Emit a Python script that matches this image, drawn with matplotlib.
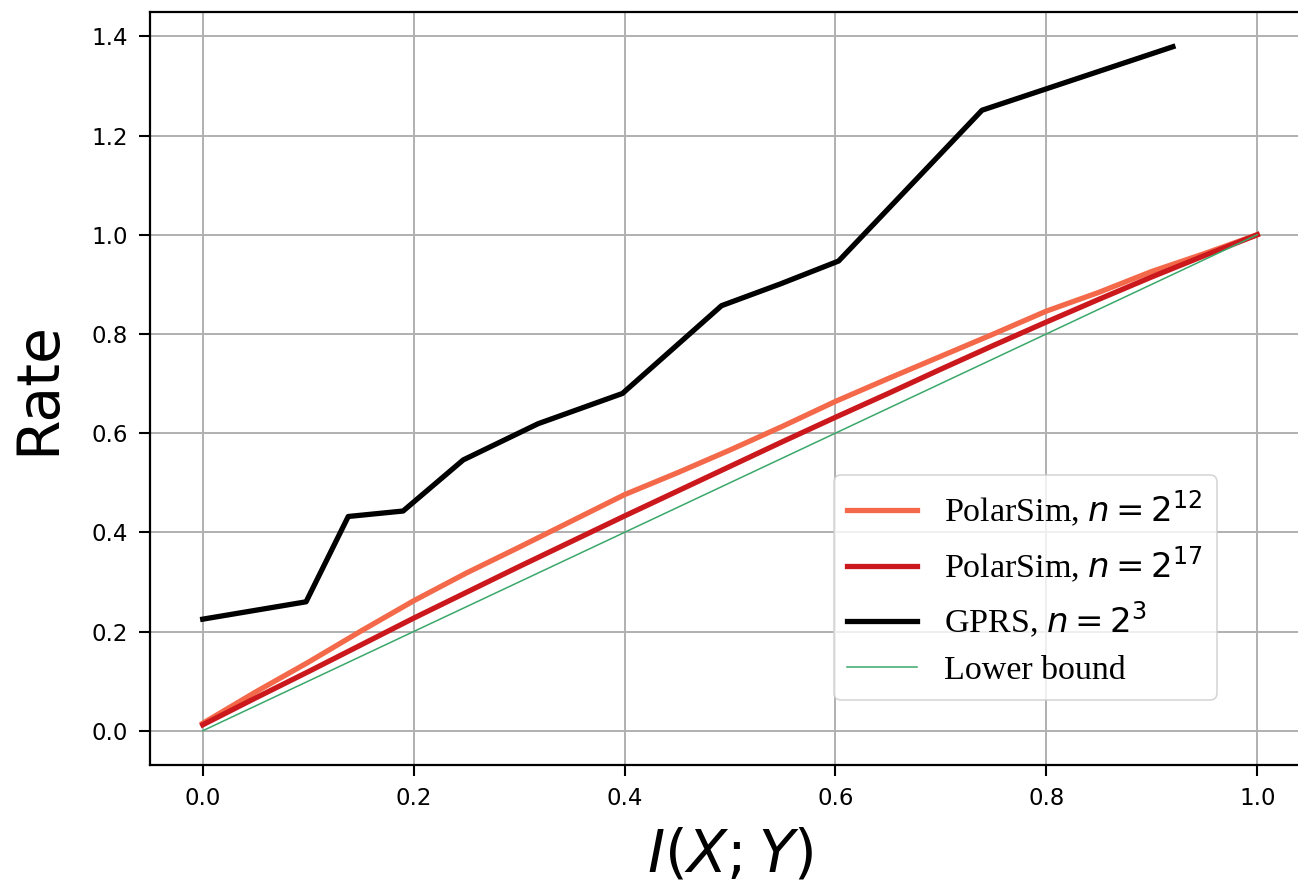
import matplotlib
matplotlib.use("Agg")
import matplotlib.pyplot as plt

# mutual information grid for the PolarSim curves
mi = [0.0, 0.05, 0.1, 0.15, 0.2, 0.25, 0.3, 0.35, 0.4, 0.45, 0.5,
      0.55, 0.6, 0.65, 0.7, 0.75, 0.8, 0.85, 0.9, 0.95, 1.0]
polar_12 = [0.015, 0.078, 0.138, 0.201, 0.262, 0.318, 0.370, 0.423, 0.476, 0.520, 0.566,
            0.614, 0.664, 0.710, 0.755, 0.800, 0.846, 0.884, 0.926, 0.962, 1.0]
polar_17 = [0.012, 0.066, 0.119, 0.173, 0.227, 0.279, 0.331, 0.382, 0.433, 0.483, 0.533,
            0.583, 0.632, 0.680, 0.729, 0.777, 0.824, 0.870, 0.915, 0.958, 1.0]

# GPRS points
gprs_x = [0.0, 0.098, 0.138, 0.190, 0.247, 0.318, 0.398, 0.492, 0.548, 0.603, 0.739, 0.920]
gprs_y = [0.225, 0.260, 0.432, 0.443, 0.546, 0.619, 0.680, 0.857, 0.901, 0.947, 1.251, 1.379]

bound_x = [0.0, 1.0]
bound_y = [0.0, 1.0]

fig = plt.figure(figsize=(12.98, 8.92), dpi=100)
# axes runs a bit past the right edge of the canvas, like the cropped original
ax = fig.add_axes([150 / 1298, 127 / 892, 1160 / 1298, 753 / 892])

ax.plot(mi, polar_12, color='#f4694a', lw=3.8, label='PolarSim, $n=2^{12}$')
ax.plot(mi, polar_17, color='#cb181d', lw=3.8, label='PolarSim, $n=2^{17}$')
ax.plot(gprs_x, gprs_y, color='black', lw=3.8, label='GPRS, $n=2^{3}$')
ax.plot(bound_x, bound_y, color='#3aa86a', lw=1.1, label='Lower bound')

ax.set_xlim(-0.05, 1.05)
ax.set_ylim(-0.069, 1.449)
ax.set_xticks([0.0, 0.2, 0.4, 0.6, 0.8, 1.0])
ax.set_yticks([0.0, 0.2, 0.4, 0.6, 0.8, 1.0, 1.2, 1.4])

ax.grid(True, color='#b0b0b0', lw=1.4)
ax.set_axisbelow(True)
for s in ax.spines.values():
    s.set_linewidth(1.6)
ax.tick_params(labelsize=16.5, length=8, width=1.5, pad=8)

ax.set_ylabel('Rate', fontsize=42, labelpad=18)
ax.set_xlabel('$I(X;Y)$', fontsize=42, labelpad=12)

leg = ax.legend(loc='lower right', bbox_to_anchor=((1217 - 150) / 1160, 65 / 753),
                borderaxespad=0, handlelength=2.05, labelspacing=0.45,
                prop={'family': 'Liberation Serif', 'size': 24.5})
leg.get_frame().set_linewidth(1.2)

plt.savefig('out.png', dpi=100)
